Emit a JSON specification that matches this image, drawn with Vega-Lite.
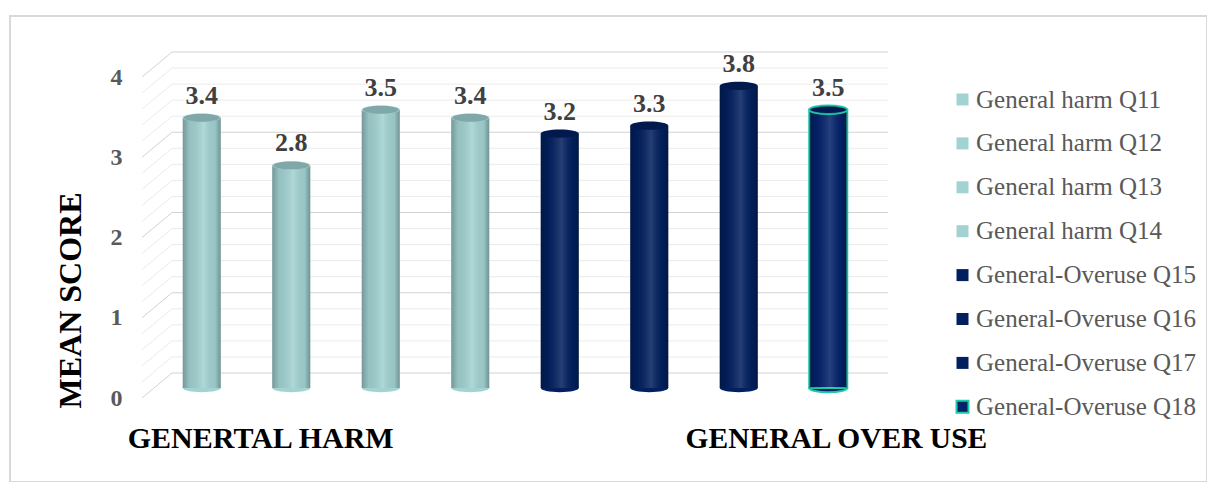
{
  "$schema": "https://vega.github.io/schema/vega-lite/v6.json",
  "width": 1197,
  "height": 466,
  "autosize": {"type": "none"},
  "padding": {"left": 10, "top": 16, "right": 0, "bottom": 0},
  "background": "white",
  "config": {
    "view": {"stroke": "#d9d9d9", "strokeWidth": 2},
    "legend": {
      "orient": "none",
      "legendX": 940,
      "legendY": 71,
      "symbolType": "square",
      "symbolSize": 144,
      "labelFont": "Liberation Serif",
      "labelFontSize": 25,
      "labelColor": "#595959",
      "rowPadding": 17.9,
      "labelOffset": 1,
      "padding": 0,
      "symbolStrokeWidth": 2,
      "labelLimit": 300
    }
  },
  "datasets": {
    "bars": [
      {"q": "General harm Q11", "v": 3.4},
      {"q": "General harm Q12", "v": 2.8},
      {"q": "General harm Q13", "v": 3.5},
      {"q": "General harm Q14", "v": 3.4},
      {"q": "General-Overuse Q15", "v": 3.2},
      {"q": "General-Overuse Q16", "v": 3.3},
      {"q": "General-Overuse Q17", "v": 3.8},
      {"q": "General-Overuse Q18", "v": 3.5}
    ],
    "grid": [
      {"v": 0}, {"v": 0.2}, {"v": 0.4}, {"v": 0.6}, {"v": 0.8},
      {"v": 1}, {"v": 1.2}, {"v": 1.4}, {"v": 1.6}, {"v": 1.8},
      {"v": 2}, {"v": 2.2}, {"v": 2.4}, {"v": 2.6}, {"v": 2.8},
      {"v": 3}, {"v": 3.2}, {"v": 3.4}, {"v": 3.6}, {"v": 3.8},
      {"v": 4}
    ],
    "groups1": [{"label": "GENERTAL HARM"}],
    "groups2": [{"label": "GENERAL OVER USE"}]
  },
  "resolve": {"scale": {"x": "independent", "y": "independent"}},
  "layer": [
    {
      "data": {"name": "grid"},
      "mark": {"type": "rule", "strokeWidth": 1},
      "encoding": {
        "y": {
          "field": "v", "type": "quantitative",
          "scale": {"domain": [0, 4], "range": [357, 36]},
          "axis": {
            "values": [0, 1, 2, 3, 4],
            "grid": false, "domain": false, "ticks": false, "tickSize": 0,
            "labelPadding": 0, "offset": -112, "labelOffset": 25,
            "labelFont": "Liberation Serif", "labelFontWeight": "bold",
            "labelFontSize": 24, "labelColor": "#595959",
            "title": "MEAN SCORE",
            "titleFont": "Liberation Serif", "titleFontSize": 32,
            "titleFontWeight": "bold", "titleColor": "#000000",
            "titleX": -52, "titleY": 284, "titleAngle": -90,
            "titleAlign": "center", "titleBaseline": "middle"
          }
        },
        "x": {"datum": 0, "type": "quantitative", "scale": {"domain": [0, 1], "range": [162, 878]}, "axis": null},
        "x2": {"datum": 1},
        "color": {"condition": {"test": "datum.v % 1 === 0", "value": "#d2d2d2"}, "value": "#ebebeb"}
      }
    },
    {
      "data": {"name": "grid"},
      "mark": {"type": "rule", "strokeWidth": 1, "x2Offset": -30, "y2Offset": 25},
      "encoding": {
        "y": {"field": "v", "type": "quantitative", "scale": {"domain": [0, 4], "range": [357, 36]}, "axis": null},
        "y2": {"field": "v"},
        "x": {"datum": 0, "type": "quantitative", "scale": {"domain": [0, 1], "range": [162, 878]}, "axis": null},
        "x2": {"datum": 0},
        "color": {"condition": {"test": "datum.v % 1 === 0", "value": "#d2d2d2"}, "value": "#ebebeb"}
      }
    },
    {
      "data": {"name": "bars"},
      "mark": {"type": "point", "shape": "M-1,0A1,0.22,0,1,1,1,0A1,0.22,0,1,1,-1,0Z", "size": 1444, "filled": true, "opacity": 1, "strokeWidth": 2},
      "encoding": {
        "x": {"field": "q", "type": "nominal", "sort": null, "scale": {"range": [147, 863], "paddingInner": 0.575, "paddingOuter": 0.2875}, "axis": null},
        "y": {"datum": 0, "type": "quantitative", "scale": {"domain": [0, 4], "range": [372, 54]}, "axis": null},
        "color": {"field": "q", "type": "nominal", "sort": null, "legend": {"title": null},
          "scale": {"range": ["#a2d2d2", "#a2d2d2", "#a2d2d2", "#a2d2d2", "#02205f", "#02205f", "#02205f", "#03226a"]}},
        "stroke": {"field": "q", "type": "nominal", "sort": null, "legend": {"title": null},
          "scale": {"range": ["transparent", "transparent", "transparent", "transparent", "transparent", "transparent", "transparent", "#22c9a6"]}}
      }
    },
    {
      "data": {"name": "bars"},
      "mark": {"type": "bar", "strokeWidth": 2},
      "encoding": {
        "x": {"field": "q", "type": "nominal", "sort": null, "scale": {"range": [147, 863], "paddingInner": 0.575, "paddingOuter": 0.2875}, "axis": null},
        "y": {"field": "v", "type": "quantitative", "scale": {"domain": [0, 4], "range": [372, 54]}, "axis": null},
        "color": {"field": "q", "type": "nominal", "sort": null, "legend": {"title": null}},
        "stroke": {"field": "q", "type": "nominal", "sort": null, "legend": {"title": null}}
      }
    },
    {
      "data": {"name": "bars"},
      "mark": {
        "type": "bar",
        "fill": {
          "gradient": "linear", "x1": 0, "y1": 0, "x2": 1, "y2": 0,
          "stops": [
            {"offset": 0, "color": "rgba(0,0,0,0.28)"},
            {"offset": 0.18, "color": "rgba(0,0,0,0.08)"},
            {"offset": 0.55, "color": "rgba(255,255,255,0.14)"},
            {"offset": 0.85, "color": "rgba(0,0,0,0.06)"},
            {"offset": 1, "color": "rgba(0,0,0,0.3)"}
          ]
        }
      },
      "encoding": {
        "x": {"field": "q", "type": "nominal", "sort": null, "scale": {"range": [147, 863], "paddingInner": 0.575, "paddingOuter": 0.2875}, "axis": null},
        "y": {"field": "v", "type": "quantitative", "scale": {"domain": [0, 4], "range": [372, 54]}, "axis": null}
      }
    },
    {
      "data": {"name": "bars"},
      "mark": {"type": "point", "shape": "M-1,0A1,0.22,0,1,1,1,0A1,0.22,0,1,1,-1,0Z", "size": 1444, "filled": true, "opacity": 1, "strokeWidth": 2},
      "encoding": {
        "x": {"field": "q", "type": "nominal", "sort": null, "scale": {"range": [147, 863], "paddingInner": 0.575, "paddingOuter": 0.2875}, "axis": null},
        "y": {"field": "v", "type": "quantitative", "scale": {"domain": [0, 4], "range": [372, 54]}, "axis": null},
        "color": {"field": "q", "type": "nominal", "sort": null, "legend": {"title": null}},
        "stroke": {"field": "q", "type": "nominal", "sort": null, "legend": {"title": null}}
      }
    },
    {
      "data": {"name": "bars"},
      "mark": {"type": "point", "shape": "M-1,0A1,0.22,0,1,1,1,0A1,0.22,0,1,1,-1,0Z", "size": 1300, "filled": true, "opacity": 1, "fill": "rgba(0,0,0,0.2)", "strokeWidth": 0},
      "encoding": {
        "x": {"field": "q", "type": "nominal", "sort": null, "scale": {"range": [147, 863], "paddingInner": 0.575, "paddingOuter": 0.2875}, "axis": null},
        "y": {"field": "v", "type": "quantitative", "scale": {"domain": [0, 4], "range": [372, 54]}, "axis": null}
      }
    },
    {
      "data": {"name": "bars"},
      "mark": {"type": "text", "font": "Liberation Serif", "fontWeight": "bold", "fontSize": 26, "color": "#404040", "baseline": "alphabetic", "dy": -14},
      "encoding": {
        "x": {"field": "q", "type": "nominal", "sort": null, "scale": {"range": [147, 863], "paddingInner": 0.575, "paddingOuter": 0.2875}, "axis": null},
        "y": {"field": "v", "type": "quantitative", "scale": {"domain": [0, 4], "range": [372, 54]}, "axis": null},
        "text": {"field": "v", "type": "quantitative", "format": ".1f"}
      }
    },
    {
      "data": {"name": "groups1"},
      "mark": {"type": "text", "font": "Liberation Serif", "fontWeight": "bold", "fontSize": 30, "color": "#000000", "baseline": "alphabetic", "align": "left", "dx": -74},
      "encoding": {
        "x": {"datum": "General harm Q11", "type": "nominal", "scale": {"domain": ["General harm Q11", "General harm Q12", "General harm Q13", "General harm Q14", "General-Overuse Q15", "General-Overuse Q16", "General-Overuse Q17", "General-Overuse Q18"], "range": [147, 863], "paddingInner": 0.575, "paddingOuter": 0.2875}, "axis": null},
        "y": {"datum": -0.75, "type": "quantitative", "scale": {"domain": [0, 4], "range": [372, 54]}, "axis": null},
        "text": {"field": "label", "type": "nominal"}
      }
    },
    {
      "data": {"name": "groups2"},
      "mark": {"type": "text", "font": "Liberation Serif", "fontWeight": "bold", "fontSize": 29.5, "color": "#000000", "baseline": "alphabetic", "align": "right", "dx": 159},
      "encoding": {
        "x": {"datum": "General-Overuse Q18", "type": "nominal", "scale": {"domain": ["General harm Q11", "General harm Q12", "General harm Q13", "General harm Q14", "General-Overuse Q15", "General-Overuse Q16", "General-Overuse Q17", "General-Overuse Q18"], "range": [147, 863], "paddingInner": 0.575, "paddingOuter": 0.2875}, "axis": null},
        "y": {"datum": -0.75, "type": "quantitative", "scale": {"domain": [0, 4], "range": [372, 54]}, "axis": null},
        "text": {"field": "label", "type": "nominal"}
      }
    }
  ]
}
